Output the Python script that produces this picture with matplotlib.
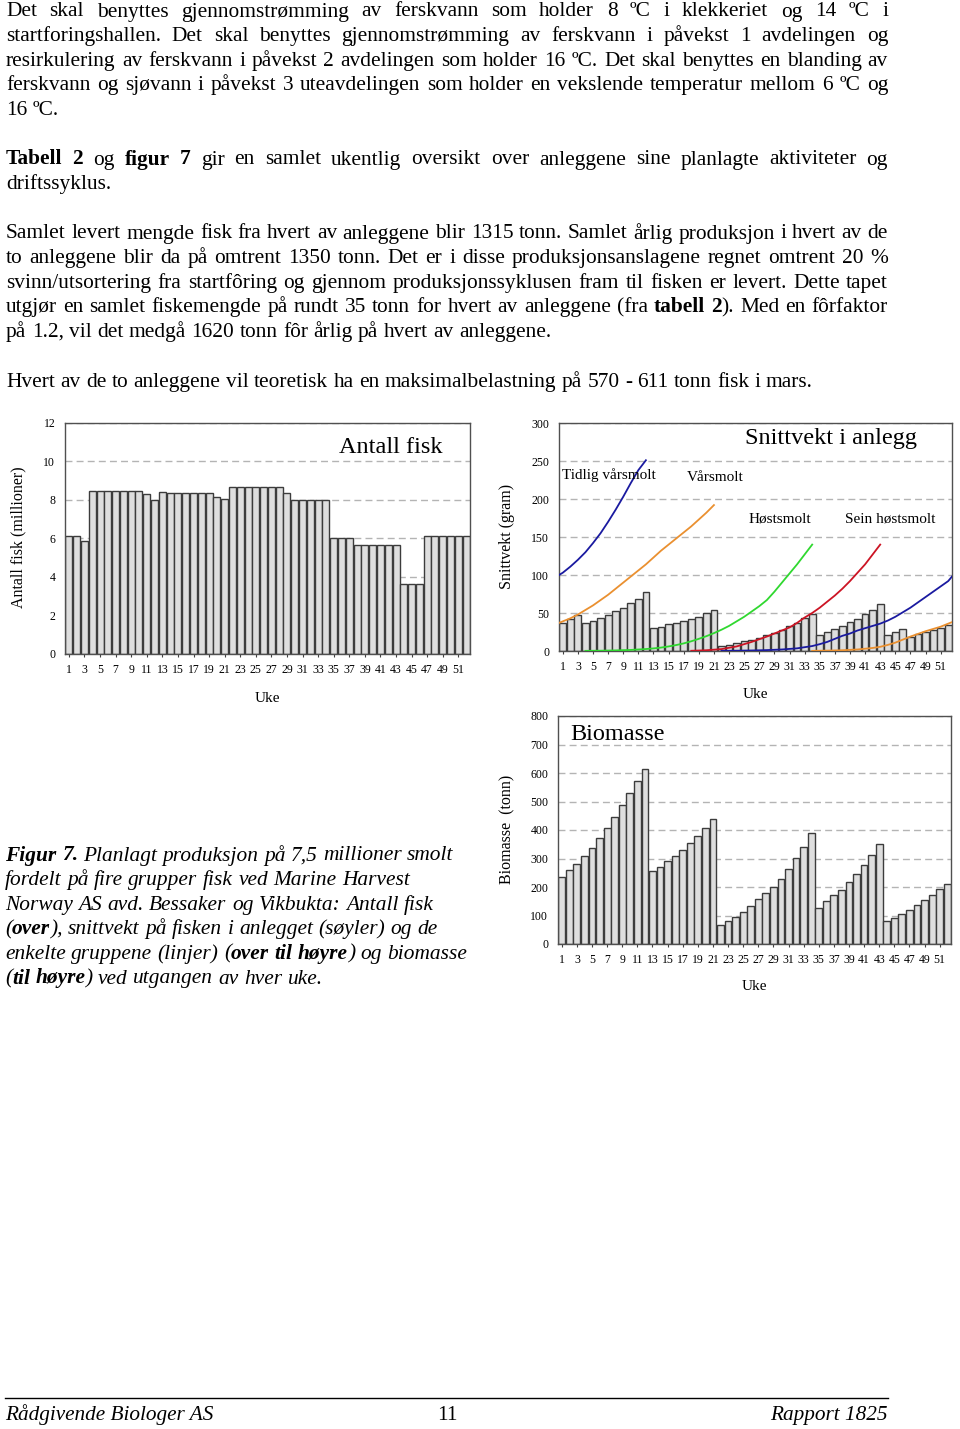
import matplotlib
matplotlib.use('Agg')
import matplotlib.pyplot as plt
import numpy as np

# --- data ---
weeks = list(range(1, 53))
week_ticks = list(range(1, 53, 2))

antall_fisk = [6.15, 6.15, 5.85,
               8.45, 8.45, 8.45, 8.45, 8.45, 8.45, 8.45,
               8.3, 8.0, 8.4,
               8.35, 8.35, 8.35, 8.35, 8.35, 8.35,
               8.15, 8.05,
               8.65, 8.65, 8.65, 8.65, 8.65, 8.65, 8.65,
               8.35,
               8.0, 8.0, 8.0, 8.0, 8.0,
               6.0, 6.0, 6.0,
               5.65, 5.65, 5.65, 5.65, 5.65, 5.65,
               3.65, 3.65, 3.65,
               6.15, 6.15, 6.15, 6.15, 6.15, 6.15]

snittvekt = [37, 42, 47, 37, 40, 44, 48, 53, 57, 63, 69, 77,
             30, 32, 35, 37, 39, 42, 45, 50, 54,
             6, 8, 10.5, 13, 14.5, 17.5, 20.5, 24, 27.5, 33, 37, 43, 49,
             20.5, 25, 29, 32.5, 38, 42.5, 49, 54, 62,
             21.5, 25, 29,
             19, 22, 24.5, 27.5, 30.5, 34]

biomasse = [235, 258, 282, 309, 338, 371, 406, 446, 489, 529, 571, 613,
            256, 271, 290, 309, 330, 353, 378, 407, 437,
            65, 80, 95, 111, 132, 157, 179, 199, 228, 262, 301, 342, 389,
            127, 150, 172, 189, 216, 244, 277, 312, 352,
            81, 92, 106, 119, 137, 154, 173, 192, 212]

# growth curves of the groups (week, gram)
tidlig_x = [0.5, 1, 2, 3, 4, 5, 6, 7, 8, 9, 10, 11, 12]
tidlig_y = [100, 103, 111, 120, 130, 142, 155, 170, 186, 203, 221, 238, 251]
var_x = [0.5, 1, 2, 3, 4, 5, 6, 7, 8, 9, 10, 11, 12, 13, 14, 15, 16, 17, 18, 19, 20, 21]
var_y = [37, 39, 43, 48, 54, 60, 67, 74, 82, 90, 98, 106, 114, 123, 132, 140, 148, 156, 164, 173, 182, 192]
host_x = [4, 6, 8, 10, 11, 12, 13, 14, 15, 16, 17, 18, 19, 20, 21, 22, 23, 24, 25, 26,
          27, 28, 29, 30, 31, 32, 33, 34]
host_y = [0.2, 0.4, 0.8, 1.4, 2, 2.6, 3.4, 4.5, 6, 7.8, 10, 12.8, 16, 19.5, 23.5, 28, 33, 39,
          45, 52, 59, 67, 78, 90, 102, 114, 127, 140]
sein_x = [18, 20, 22, 24, 26, 28, 30, 31, 32, 33, 34, 35, 36, 37, 38, 39, 40, 41, 42, 43]
sein_y = [0.3, 1, 2.5, 6, 12, 19, 27, 31, 37, 44, 50, 57, 65, 73, 82, 92, 103, 114, 127, 140]
tidlig2_x = [22, 24, 26, 28, 30, 32, 33, 34, 35, 36, 37, 38, 39, 40, 41, 42, 43, 44, 45, 46,
             47, 48, 49, 50, 51, 52, 52.5]
tidlig2_y = [0.2, 0.4, 0.7, 1.2, 2, 3.5, 5, 6.5, 9, 12, 16, 20, 23, 27, 30, 33, 36, 40, 45, 51,
             57, 64, 71, 78, 85, 92, 98]
var2_x = [34, 36, 38, 40, 41, 42, 43, 44, 45, 46, 47, 48, 49, 50, 51, 52, 52.5]
var2_y = [0.2, 0.5, 1, 2, 3, 4, 5.5, 8, 11, 15, 19, 22.5, 26, 29, 32, 36, 38]

para1 = ["Det skal benyttes gjennomstrømming av ferskvann som holder 8 ºC i klekkeriet og 14 ºC i",
         "startforingshallen. Det skal benyttes gjennomstrømming av ferskvann i påvekst 1 avdelingen og",
         "resirkulering av ferskvann i påvekst 2 avdelingen som holder 16 ºC. Det skal benyttes en blanding av",
         "ferskvann og sjøvann i påvekst 3 uteavdelingen som holder en vekslende temperatur mellom 6 ºC og",
         "16 ºC."]
para2 = ["**Tabell 2** og **figur 7** gir en samlet ukentlig oversikt over anleggene sine planlagte aktiviteter og",
         "driftssyklus."]
para3 = ["Samlet levert mengde fisk fra hvert av anleggene blir 1315 tonn. Samlet årlig produksjon i hvert av de",
         "to anleggene blir da på omtrent 1350 tonn. Det er i disse produksjonsanslagene regnet omtrent 20 %",
         "svinn/utsortering fra startfôring og gjennom produksjonssyklusen fram til fisken er levert. Dette tapet",
         "utgjør en samlet fiskemengde på rundt 35 tonn for hvert av anleggene (fra **tabell 2**). Med en fôrfaktor",
         "på 1.2, vil det medgå 1620 tonn fôr årlig på hvert av anleggene."]
para4 = ["Hvert av de to anleggene vil teoretisk ha en maksimalbelastning på 570 - 611 tonn fisk i mars."]
caption = ["**Figur 7.** Planlagt produksjon på 7,5 millioner smolt",
           "fordelt på fire grupper fisk ved Marine Harvest",
           "Norway AS avd. Bessaker og Vikbukta: Antall fisk",
           "(**over**), snittvekt på fisken i anlegget (søyler) og de",
           "enkelte gruppene (linjer) (**over til høyre**) og biomasse",
           "(**til høyre**) ved utgangen av hver uke."]

plt.rcParams['font.family'] = 'Liberation Serif'

W, H = 960, 1429
fig = plt.figure(figsize=(9.6, 14.29), dpi=100)
renderer = fig.canvas.get_renderer()


def fx(px):
    return px / W


def fy(py):
    return 1 - py / H


def text_width(s, **kw):
    t = fig.text(0, 0, s, **kw)
    w = t.get_window_extent(renderer).width
    t.remove()
    return w


def write_line(line, y, size, x0=6, x1=888, justify=False, style='normal'):
    bold = False
    words = []
    for tok in line.split(' '):
        pieces = []
        for k, part in enumerate(tok.split('**')):
            if k > 0:
                bold = not bold
            if part:
                t = fig.text(0, fy(y), part, fontsize=size, style=style,
                             weight='bold' if bold else 'normal', va='baseline')
                pieces.append((t, t.get_window_extent(renderer).width))
        words.append(pieces)
    widths = [sum(w for _, w in p) for p in words]
    if justify and len(words) > 1:
        gap = (x1 - x0 - sum(widths)) / (len(words) - 1)
    else:
        gap = (text_width('a a', fontsize=size, style=style)
               - text_width('aa', fontsize=size, style=style))
    x = x0
    for pieces, w in zip(words, widths):
        xx = x
        for t, pw in pieces:
            t.set_x(fx(xx))
            xx += pw
        x += w + gap


def write_para(lines, y0, size):
    for i, line in enumerate(lines):
        write_line(line, y0 + i * 24.6, size, justify=(i < len(lines) - 1))


# body text size from the last (unjustified) line width
body = 10 * 807 / text_width(para4[0], fontsize=10)
write_para(para1, 16.5, body)
write_para(para2, 164.5, body)
write_para(para3, 238.5, body)
write_para(para4, 387, body)

for i, line in enumerate(caption):
    write_line(line, 860.5 + i * 24.6, body, x0=5, style='italic')

# footer
fig.add_artist(plt.Line2D([fx(5), fx(888)], [fy(1398), fy(1398)], color='black', lw=1.0))
foot = 10 * 210 / text_width('Rådgivende Biologer AS', fontsize=10, style='italic')
fig.text(fx(5), fy(1420), 'Rådgivende Biologer AS', fontsize=foot, style='italic', va='baseline')
fig.text(fx(447), fy(1420), '11', fontsize=foot, ha='center', va='baseline')
fig.text(fx(888), fy(1420), 'Rapport 1825', fontsize=foot, style='italic', ha='right', va='baseline')


def setup(ax, ymax, step):
    ax.set_xlim(0.5, 52.5)
    ax.set_ylim(0, ymax)
    ax.set_yticks(np.arange(0, ymax + step / 2, step))
    ax.set_xticks(week_ticks)
    ax.tick_params(axis='x', length=2.5, width=0.8, pad=5, labelsize=8.5, color='#404040')
    ax.tick_params(axis='y', length=0, pad=7, labelsize=8.5)
    ax.yaxis.grid(True, color='#b4b4b4', lw=1.0, ls=(0, (5, 3)))
    ax.set_axisbelow(True)
    for s in ax.spines.values():
        s.set_color('#505050')
        s.set_linewidth(1.0)


def bars(ax, vals):
    ax.bar(weeks, vals, width=0.9, color='#dedede', edgecolor='#3c3c3c', linewidth=1.0, zorder=2)


# Antall fisk
ax1 = fig.add_axes([fx(65), fy(654), 405 / W, 231 / H])
setup(ax1, 12, 2)
bars(ax1, antall_fisk)
ax1.text(0.805, 0.892, 'Antall fisk', transform=ax1.transAxes, fontsize=17.5, ha='center', va='center')
fig.text(fx(18), fy(537), 'Antall fisk (millioner)', rotation=90, fontsize=11.5, ha='center', va='center')
fig.text(fx(267), fy(698), 'Uke', fontsize=11, ha='center', va='center')

# Snittvekt
ax2 = fig.add_axes([fx(559), fy(651), 393 / W, 228 / H])
setup(ax2, 300, 50)
bars(ax2, snittvekt)
ax2.plot(tidlig_x, tidlig_y, color='#1a1aa0', lw=1.3, zorder=3)
ax2.plot(var_x, var_y, color='#ea9030', lw=1.3, zorder=3)
ax2.plot(host_x, host_y, color='#30d830', lw=1.3, zorder=3)
ax2.plot(sein_x, sein_y, color='#cc1424', lw=1.3, zorder=3)
ax2.plot(tidlig2_x, tidlig2_y, color='#1a1aa0', lw=1.3, zorder=3)
ax2.plot(var2_x, var2_y, color='#ea9030', lw=1.3, zorder=3)
ax2.text(0.693, 0.934, 'Snittvekt i anlegg', transform=ax2.transAxes, fontsize=17.5, ha='center', va='center')
for lbl, lx, ly in [('Tidlig vårsmolt', 0.008, 0.772), ('Vårsmolt', 0.326, 0.763),
                    ('Høstsmolt', 0.483, 0.579), ('Sein høstsmolt', 0.728, 0.579)]:
    ax2.text(lx, ly, lbl, transform=ax2.transAxes, fontsize=11, ha='left', va='center', zorder=4)
fig.text(fx(507), fy(536), 'Snittvekt (gram)', rotation=90, fontsize=11.5, ha='center', va='center')
fig.text(fx(755), fy(694), 'Uke', fontsize=11, ha='center', va='center')

# Biomasse
ax3 = fig.add_axes([fx(558), fy(944), 393 / W, 228 / H])
setup(ax3, 800, 100)
bars(ax3, biomasse)
ax3.text(0.03, 0.917, 'Biomasse', transform=ax3.transAxes, fontsize=17.5, ha='left', va='center')
fig.text(fx(507), fy(829), 'Biomasse  (tonn)', rotation=90, fontsize=11.5, ha='center', va='center')
fig.text(fx(754), fy(987), 'Uke', fontsize=11, ha='center', va='center')

fig.savefig('out.png', dpi=100)
